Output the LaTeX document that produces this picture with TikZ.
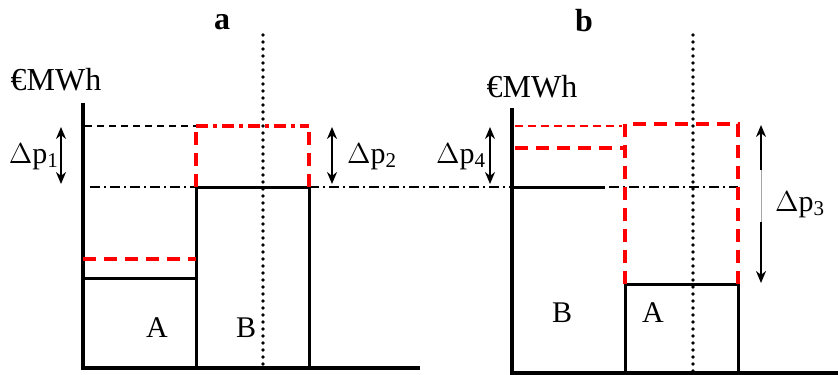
\documentclass[tikz,border=0pt]{standalone}
\usepackage{fontspec}
\setmainfont{Liberation Serif}
\usetikzlibrary{arrows.meta}

\begin{document}
\begin{tikzpicture}[x=0.5pt,y=-0.5pt,
  axis/.style={line width=1.6pt},
  blk/.style={line width=1.5pt},
  bidshift/.style={red,line width=1.6pt,dash pattern=on 6.5pt off 4pt},
  bidshiftdd/.style={red,line width=1.6pt,dash pattern=on 6pt off 2.5pt on 2pt off 2.5pt},
  refline/.style={line width=0.7pt,dash pattern=on 3.5pt off 2.5pt},
  refdd/.style={line width=0.7pt,dash pattern=on 5pt off 2pt on 1pt off 2pt},
  midline/.style={line width=1.8pt,line cap=round,dash pattern=on 0pt off 3.5pt},
  darr/.style={{Stealth[length=6pt,width=5pt]}-{Stealth[length=6pt,width=5pt]},line width=0.9pt},
  lbl/.style={font=\fontsize{15}{15}\selectfont},
  ttl/.style={font=\fontsize{16}{16}\selectfont\bfseries}
]
  \useasboundingbox (0,0) rectangle (838,374);

  % Panel a
  \node[ttl] (ta) at (222,22) {a};
  \node[lbl,font=\fontsize{16}{16}\selectfont] (ua) at (56,80) {€MWh};
  \coordinate (a0) at (83,368);
  \coordinate (atop) at (83,103);
  \coordinate (aend) at (420,368);
  \draw[axis] (atop) -- (a0) -- (aend);
  \draw[midline] (263,35) -- (263,368);
  % reference lines
  \draw[refline] (85,126) -- (196,126);
  \draw[refdd] (90,187) -- (196,187);
  \draw[refdd] (309,187) -- (738,187);
  % blocks A and B
  \draw[blk] (83,278) -- (196,278);
  \draw[blk] (196,368) -- (196,187) -- (309,187) -- (309,368);
  \draw[bidshift] (83,259) -- (196,259);
  \draw[bidshift] (196,187) -- (196,126);
  \draw[bidshift] (309,187) -- (309,126);
  \draw[bidshiftdd] (196,126) -- (309,126);
  \node[lbl] (la) at (157,328) {A};
  \node[lbl] (lb) at (246,328) {B};
  % price shifts
  \coordinate (p1t) at (61,127); \coordinate (p1b) at (61,184);
  \draw[darr] (p1t) -- (p1b);
  \node[lbl] (dp1) at (34,157) {$\Delta$p\textsubscript{1}};
  \coordinate (p2t) at (332,127); \coordinate (p2b) at (332,184);
  \draw[darr] (p2t) -- (p2b);
  \node[lbl] (dp2) at (372,157) {$\Delta$p\textsubscript{2}};

  % Panel b
  \node[ttl] (tb) at (584,21) {b};
  \node[lbl,font=\fontsize{16}{16}\selectfont] (ub) at (532,87) {€MWh};
  \coordinate (b0) at (512,373);
  \coordinate (btop) at (512,108);
  \coordinate (bend) at (838,373);
  \draw[axis] (btop) -- (b0) -- (bend);
  \draw[midline] (693,35) -- (693,373);
  \draw[blk] (512,187) -- (605,187);
  % block A and shifted bids
  \draw[blk] (625,373) -- (625,284) -- (738,284) -- (738,373);
  \draw[red,line width=0.8pt,dash pattern=on 4pt off 2.5pt] (515,126) -- (622,126);
  \draw[bidshift] (515,148) -- (625,148);
  \draw[bidshift] (625,284) -- (625,124) -- (738,124) -- (738,284);
  \node[lbl] (lb2) at (562,313) {B};
  \node[lbl] (la2) at (653,313) {A};
  % price shifts
  \coordinate (p4t) at (490,127); \coordinate (p4b) at (490,184);
  \draw[darr] (p4t) -- (p4b);
  \node[lbl] (dp4) at (461,157) {$\Delta$p\textsubscript{4}};
  \coordinate (p3t) at (761,125); \coordinate (p3b) at (761,283);
  \coordinate (p3m1) at (761,170); \coordinate (p3m2) at (761,222);
  \draw[gray!70,line width=0.4pt] (p3m1) -- (p3m2);
  \draw[{Stealth[length=6pt,width=5pt]}-,line width=0.9pt] (p3t) -- (p3m1);
  \draw[-{Stealth[length=6pt,width=5pt]},line width=0.9pt] (p3m2) -- (p3b);
  \node[lbl] (dp3) at (800,205) {$\Delta$p\textsubscript{3}};
\end{tikzpicture}
\end{document}
